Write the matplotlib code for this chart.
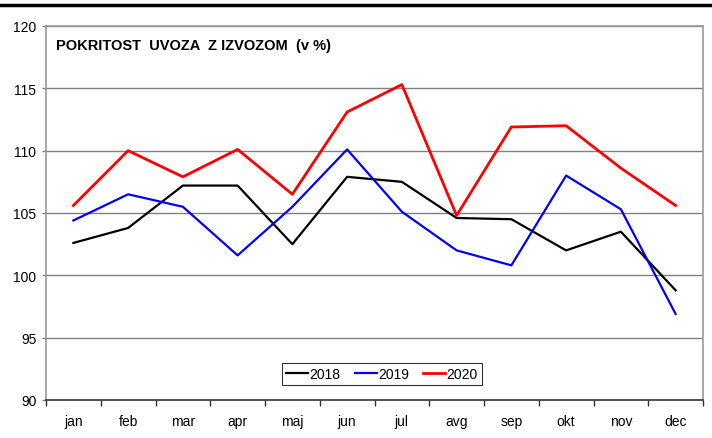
import matplotlib
matplotlib.use("Agg")
import matplotlib.pyplot as plt
from matplotlib.lines import Line2D
import numpy as np

plt.rcParams['font.family'] = ['Liberation Sans', 'DejaVu Sans']

# meseci in pokritost uvoza z izvozom (v %)
months = ['jan', 'feb', 'mar', 'apr', 'maj', 'jun', 'jul', 'avg', 'sep', 'okt', 'nov', 'dec']
y2018 = [102.6, 103.8, 107.2, 107.2, 102.5, 107.9, 107.5, 104.6, 104.5, 102.0, 103.5, 98.8]
y2019 = [104.4, 106.5, 105.5, 101.6, 105.5, 110.1, 105.1, 102.0, 100.8, 108.0, 105.3, 96.9]
y2020 = [105.6, 110.0, 107.9, 110.1, 106.5, 113.1, 115.3, 104.8, 111.9, 112.0, 108.6, 105.6]
title = 'POKRITOST  UVOZA  Z IZVOZOM  (v %)'

fig = plt.figure(figsize=(7.12, 4.39), dpi=100)
ax = fig.add_axes([46/712, 1-401/439, (703-46)/712, (401-27)/439])

x = np.arange(len(months))
ax.plot(x, y2018, color='black', lw=1.6, label='2018')
ax.plot(x, y2019, color='#0000ff', lw=1.6, label='2019')
ax.plot(x, y2020, color='#ff0000', lw=2.0, label='2020')

ax.set_xlim(-0.5, 11.5)
ax.set_ylim(90, 120)
ax.set_yticks(range(90, 121, 5))
ax.yaxis.grid(True, color='#808080', lw=1.0)
ax.set_axisbelow(True)

# ticks on category boundaries, labels in the middle
ax.set_xticks(np.arange(-0.5, 12, 1))
ax.set_xticklabels([])
ax.set_xticks(x, minor=True)
ax.set_xticklabels(months, minor=True)
ax.tick_params(axis='x', which='major', direction='out', length=4, width=1, color='#333333')
ax.tick_params(axis='x', which='minor', length=0, pad=10, labelsize=10)
ax.tick_params(axis='y', direction='out', length=3, width=1, color='#808080', labelsize=10, pad=4)

for s in ['left', 'top', 'right']:
    ax.spines[s].set_color('#999999')
    ax.spines[s].set_linewidth(1.2)
ax.spines['bottom'].set_color('#333333')
ax.spines['bottom'].set_linewidth(1.2)

ax.text(0.015, 0.968, title, transform=ax.transAxes, fontsize=10.5, fontweight='bold',
        va='top', ha='left')

leg = ax.legend(loc='center', bbox_to_anchor=((382-46)/657, (401-375)/374), ncol=3,
                frameon=True, fancybox=False, fontsize=10, handlelength=1.6,
                handletextpad=0.1, columnspacing=1.0, borderpad=0.3, borderaxespad=0)
leg.get_frame().set_edgecolor('black')
leg.get_frame().set_linewidth(0.8)

# black rule at top of the figure
fig.add_artist(Line2D([0, 1], [1-6/439, 1-6/439], color='black', lw=2.5))

fig.savefig('out.png', dpi=100)
